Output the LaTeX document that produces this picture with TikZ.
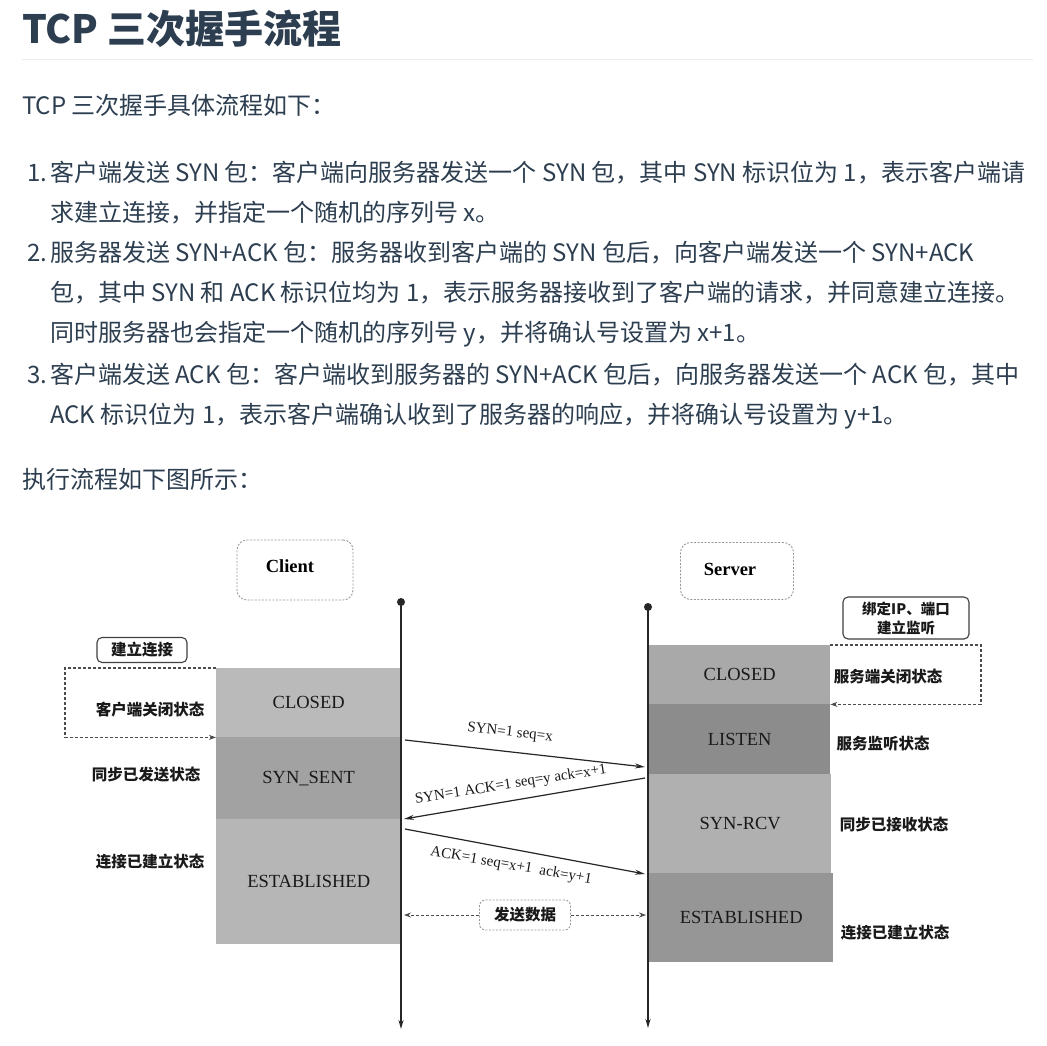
\documentclass[tikz,border=0pt]{standalone}
\usepackage{fontspec}
\setmainfont{Liberation Serif}
\newfontfamily\cjk{Noto Sans CJK SC}
\usetikzlibrary{arrows.meta}
\definecolor{txt}{HTML}{2C3E50}
\definecolor{rule}{HTML}{EAECEF}
\definecolor{gA}{HTML}{BABABA}
\definecolor{gB}{HTML}{A2A2A2}
\definecolor{gC}{HTML}{B6B6B6}
\definecolor{gD}{HTML}{A9A9A9}
\definecolor{gE}{HTML}{8C8C8C}
\definecolor{gF}{HTML}{B0B0B0}
\definecolor{gG}{HTML}{969696}
\tikzset{
  heading/.style={anchor=base west, inner sep=0pt, text=txt, font=\fontsize{39}{45}\selectfont\cjk\bfseries},
  body/.style={anchor=base west, inner sep=0pt, text=txt, font=\fontsize{24}{28}\selectfont\cjk},
  lbl/.style={inner sep=0pt, text=black!90, font=\fontsize{15.5}{18}\selectfont\cjk\bfseries},
  statebox/.style={anchor=north west, inner sep=0pt, text=black!90, font=\fontsize{18.5}{20}\selectfont},
  seqlbl/.style={inner sep=0pt, text=black!90, font=\fontsize{15}{17}\selectfont},
  dashbox/.style={draw=black!40, dash pattern=on 2pt off 1.5pt, rounded corners=10pt, line width=0.9pt},
  solidbox/.style={draw=black!75, rounded corners=5pt, line width=1.1pt},
  lifeline/.style={line width=1.4pt, black!85, -{Stealth[length=9pt,width=5pt]}},
  msg/.style={line width=1.2pt, black!85, -{Stealth[length=10pt,width=5pt]}},
  bracket/.style={line width=1.1pt, black!70, dash pattern=on 3pt off 2pt, -{Stealth[length=7pt,width=5pt]}},
  dot/.style={circle, fill=black!85, inner sep=0pt, minimum size=8pt}
}
\begin{document}
\begin{tikzpicture}[x=1pt,y=-1pt]
\useasboundingbox (0,0) rectangle (1047,1045);
\fill[white] (0,0) rectangle (1047,1045);

% ---------- text part ----------
\node[heading] (title) at (22,43) {TCP 三次握手流程};
\draw[rule, line width=1pt] (22,59) -- (1033,59);
\node[body] (intro) at (22,114) {TCP 三次握手具体流程如下：};
\node[body] (n1) at (27,181) {1.};
\node[body] (l1a) at (50,181) {客户端发送 SYN 包：客户端向服务器发送一个 SYN 包，其中 SYN 标识位为 1，表示客户端请};
\node[body] (l1b) at (50,221) {求建立连接，并指定一个随机的序列号 x。};
\node[body] (n2) at (27,261) {2.};
\node[body] (l2a) at (50,261) {服务器发送 SYN+ACK 包：服务器收到客户端的 SYN 包后，向客户端发送一个 SYN+ACK};
\node[body] (l2b) at (50,301) {包，其中 SYN 和 ACK 标识位均为 1，表示服务器接收到了客户端的请求，并同意建立连接。};
\node[body] (l2c) at (50,341) {同时服务器也会指定一个随机的序列号 y，并将确认号设置为 x+1。};
\node[body] (n3) at (27,383) {3.};
\node[body] (l3a) at (50,383) {客户端发送 ACK 包：客户端收到服务器的 SYN+ACK 包后，向服务器发送一个 ACK 包，其中};
\node[body] (l3b) at (50,423) {ACK 标识位为 1，表示客户端确认收到了服务器的响应，并将确认号设置为 y+1。};
\node[body] (fig) at (22,488) {执行流程如下图所示：};

% ---------- diagram ----------
\node[dashbox, minimum width=116pt, minimum height=60pt] (client) at (295,570) {};
\node[font=\fontsize{18.5}{20}\selectfont\bfseries, inner sep=0pt] (clientT) at (290,566) {Client};
\node[dashbox, minimum width=113pt, minimum height=57pt] (server) at (737,571) {};
\node[font=\fontsize{18.5}{20}\selectfont\bfseries, inner sep=0pt] (serverT) at (730,569) {Server};

% lifelines
\node[dot] (ctop) at (401,602) {};
\coordinate (cbot) at (401,1029);
\node[dot] (stop) at (648,607) {};
\coordinate (sbot) at (648,1028);

% client states
\node[statebox, fill=gA, minimum width=185pt, minimum height=69pt] (cclosed) at (216,668) {CLOSED};
\node[statebox, fill=gB, minimum width=185pt, minimum height=82pt] (csent) at (216,737) {SYN\_SENT};
\node[statebox, fill=gC, minimum width=185pt, minimum height=125pt] (cest) at (216,819) {ESTABLISHED};

% server states
\node[statebox, fill=gD, minimum width=181pt, minimum height=59pt] (sclosed) at (649,645) {CLOSED};
\node[statebox, fill=gE, minimum width=181pt, minimum height=70pt] (slisten) at (649,704) {LISTEN};
\node[statebox, fill=gF, minimum width=182pt, minimum height=99pt] (srcv) at (649,774) {SYN-RCV};
\node[statebox, fill=gG, minimum width=184pt, minimum height=89pt] (sest) at (649,873) {ESTABLISHED};

\draw[lifeline] (ctop.center) -- (cbot);
\draw[lifeline] (stop.center) -- (sbot);

% left annotations
\node[solidbox, lbl, minimum width=90pt, minimum height=25pt] (build) at (142,650) {建立连接};
\draw[bracket] (cclosed.north west) -- (65,668) |- (cclosed.south west);
\node[lbl] (cl1) at (150,710) {客户端关闭状态};
\node[lbl] (cl2) at (146,775) {同步已发送状态};
\node[lbl] (cl3) at (150,862) {连接已建立状态};

% right annotations
\node[solidbox, lbl, font=\fontsize{14.5}{19}\selectfont\cjk\bfseries, align=center, minimum width=126pt, minimum height=42pt] (bind) at (906,618) {绑定IP、端口\\建立监听};
\draw[bracket] (sclosed.north east) -- (981,645) |- (sclosed.south east);
\node[lbl] (sl1) at (888,677) {服务端关闭状态};
\node[lbl] (sl2) at (883,744) {服务监听状态};
\node[lbl] (sl3) at (894,825) {同步已接收状态};
\node[lbl] (sl4) at (895,933) {连接已建立状态};

% messages
\coordinate (m1a) at (405,740);
\coordinate (m1b) at (645,767);
\coordinate (m2a) at (645,778);
\coordinate (m2b) at (404,819);
\coordinate (m3a) at (405,829);
\coordinate (m3b) at (645,874);
\coordinate (m4a) at (404,915);
\coordinate (m4b) at (646,915);
\draw[msg] (m1a) -- (m1b);
\draw[msg] (m2a) -- (m2b);
\draw[msg] (m3a) -- (m3b);
\node[seqlbl, rotate=-6] (t1) at (510,733) {SYN=1 seq=x};
\node[seqlbl, rotate=9] (t2) at (511,785) {SYN=1 ACK=1 seq=y ack=x+1};
\node[seqlbl, rotate=-10] (t3) at (511,866) {ACK=1 seq=x+1\ \ ack=y+1};

\node[dashbox, lbl, rounded corners=6pt, minimum width=91pt, minimum height=30pt] (data) at (525,915) {发送数据};
\draw[bracket, line width=1pt] (data.west) -- (m4a);
\draw[bracket, line width=1pt] (data.east) -- (m4b);
\end{tikzpicture}
\end{document}
